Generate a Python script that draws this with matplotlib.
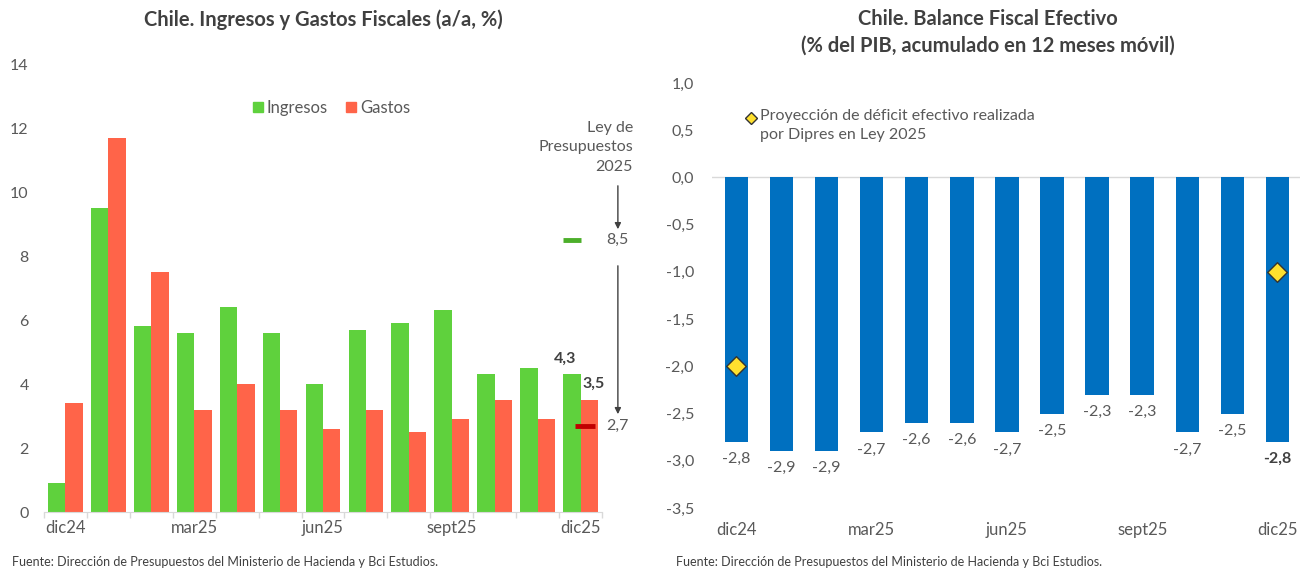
import numpy as np
import matplotlib.pyplot as plt
from matplotlib.lines import Line2D

plt.rcParams['font.family'] = ['Lato', 'DejaVu Sans']

meses = ['dic24', 'ene25', 'feb25', 'mar25', 'abr25', 'may25', 'jun25',
         'jul25', 'ago25', 'sept25', 'oct25', 'nov25', 'dic25']
ingresos = [0.9, 9.5, 5.8, 5.6, 6.4, 5.6, 4.0, 5.7, 5.9, 6.3, 4.3, 4.5, 4.3]
gastos = [3.4, 11.7, 7.5, 3.2, 4.0, 3.2, 2.6, 3.2, 2.5, 2.9, 3.5, 2.9, 3.5]
ley_ingresos = 8.5
ley_gastos = 2.7

balance = [-2.8, -2.9, -2.9, -2.7, -2.6, -2.6, -2.7, -2.5, -2.3, -2.3, -2.7, -2.5, -2.8]
proyeccion_idx = [0, 12]
proyeccion = [-2.0, -1.0]

tick_idx = [0, 3, 6, 9, 12]

VERDE = '#5FD13D'
ROJO = '#FF6449'
AZUL = '#0070C0'
AMARILLO = '#FFE02E'
GRIS = '#595959'
OSCURO = '#404040'
FUENTE = 'Fuente: Dirección de Presupuestos del Ministerio de Hacienda y Bci Estudios.'

W, H = 1304, 569
fig = plt.figure(figsize=(W / 100, H / 100), dpi=100)


def px_axes(l, t, r, b):
    return fig.add_axes([l / W, 1 - b / H, (r - l) / W, (b - t) / H])


def coma(v, dec=1):
    return f'{v:.{dec}f}'.replace('.', ',')


# ---- izquierda: ingresos y gastos ----
ax = px_axes(44, 64, 602, 512)
x = np.arange(len(meses))
w = 0.405
ax.bar(x - w / 2, ingresos, w, color=VERDE, zorder=2)
ax.bar(x + w / 2, gastos, w, color=ROJO, zorder=2)
ax.set_xlim(-0.5, 12.45)
ax.set_ylim(0, 14)
ax.set_yticks(range(0, 15, 2))
ax.set_xticks(tick_idx)
ax.set_xticklabels([meses[i] for i in tick_idx])
ax.set_xticks(np.arange(-0.5, 13, 1), minor=True)
ax.tick_params(axis='y', length=0, pad=11, labelsize=11.5, labelcolor=GRIS)
ax.tick_params(axis='x', which='major', length=0, pad=6, labelsize=12, labelcolor=GRIS)
ax.tick_params(axis='x', which='minor', length=4, color='#d9d9d9', width=1)
for s in ['top', 'right', 'left']:
    ax.spines[s].set_visible(False)
ax.spines['bottom'].set_color('#d9d9d9')

ax.text(12 - w / 2 - 0.15, ingresos[-1] + 0.5, coma(ingresos[-1]), ha='center', va='center',
        fontsize=11.5, fontweight='bold', color=OSCURO)
ax.text(12 + w / 2 + 0.1, gastos[-1] + 0.5, coma(gastos[-1]), ha='center', va='center',
        fontsize=11.5, fontweight='bold', color=OSCURO)

# Ley de Presupuestos 2025
ax.plot([11.58, 12.0], [ley_ingresos, ley_ingresos], color='#4CAF2A', lw=3.5,
        clip_on=False, solid_capstyle='butt')
ax.plot([11.87, 12.34], [ley_gastos, ley_gastos], color='#C00000', lw=3.5,
        clip_on=False, solid_capstyle='butt')
ax.text(12.6, ley_ingresos, coma(ley_ingresos), ha='left', va='center', fontsize=11.5, color=GRIS)
ax.text(12.6, ley_gastos, coma(ley_gastos), ha='left', va='center', fontsize=11.5, color=GRIS)
ax.text(13.22, ley_ingresos + 2.9, 'Ley de\nPresupuestos\n2025', ha='right', va='center',
        fontsize=11.5, color=GRIS, linespacing=1.5)
arrow = dict(arrowstyle='-|>', color='#404040', lw=1, mutation_scale=9)
ax.annotate('', xy=(12.87, ley_ingresos + 0.25), xytext=(12.87, ley_ingresos + 1.78),
            arrowprops=arrow, annotation_clip=False)
ax.annotate('', xy=(12.87, ley_gastos + 0.27), xytext=(12.87, ley_ingresos - 0.72),
            arrowprops=arrow, annotation_clip=False)

leg = [Line2D([], [], marker='s', ls='', color=VERDE, markersize=7),
       Line2D([], [], marker='s', ls='', color=ROJO, markersize=7)]
fig.legend(leg, ['Ingresos', 'Gastos'], loc='center', bbox_to_anchor=(330 / W, 1 - 108 / H),
           ncol=2, frameon=False, fontsize=12, handletextpad=0.05, columnspacing=0.9,
           labelcolor=GRIS, handlelength=1.0)

fig.text(323 / W, 1 - 20 / H, 'Chile. Ingresos y Gastos Fiscales (a/a, %)', ha='center',
         va='center', fontsize=14.5, fontweight='bold', color=OSCURO)

# ---- derecha: balance fiscal ----
ax2 = px_axes(712, 83, 1300, 508)
x2 = np.arange(len(balance))
ax2.bar(x2, balance, 0.52, color=AZUL, zorder=2)
ax2.scatter(proyeccion_idx, proyeccion, marker='D', s=100, color=AMARILLO,
            edgecolor='#333333', linewidth=1, zorder=3)
ax2.axhline(0, color='#d9d9d9', lw=1, zorder=1)
ax2.set_xlim(-0.54, 12.5)
ax2.set_ylim(-3.5, 1.0)
yt = np.arange(-3.5, 1.01, 0.5)
ax2.set_yticks(yt)
ax2.set_yticklabels([coma(v) for v in yt])
ax2.set_xticks(tick_idx)
ax2.set_xticklabels([meses[i] for i in tick_idx])
ax2.tick_params(axis='y', length=0, pad=13, labelsize=11.5, labelcolor=GRIS)
ax2.tick_params(axis='x', length=0, pad=10, labelsize=12, labelcolor=GRIS)
for s in ax2.spines.values():
    s.set_visible(False)
for i, v in enumerate(balance):
    ultimo = i == len(balance) - 1
    ax2.text(i, v - 0.18, coma(v), ha='center', va='center', fontsize=11.5,
             color=OSCURO if ultimo else GRIS, fontweight='bold' if ultimo else 'normal')

# leyenda del rombo, escrita a mano para controlar el interlineado
ax2.plot([0.066], [0.918], marker='D', ls='', markersize=6, markerfacecolor=AMARILLO,
         markeredgecolor='#333333', transform=ax2.transAxes, clip_on=False)
ax2.text(0.082, 0.939, 'Proyección de déficit efectivo realizada\npor Dipres en Ley 2025',
         transform=ax2.transAxes, ha='left', va='top', fontsize=11.5, color=GRIS,
         linespacing=1.45)

fig.text(988 / W, 1 - 32 / H, 'Chile. Balance Fiscal Efectivo\n(% del PIB, acumulado en 12 meses móvil)',
         ha='center', va='center', fontsize=14.5, fontweight='bold', color=OSCURO, linespacing=1.4)

fig.text(12 / W, 1 - 562 / H, FUENTE, ha='left', va='center', fontsize=9, color=OSCURO)
fig.text(676 / W, 1 - 562 / H, FUENTE, ha='left', va='center', fontsize=9, color=OSCURO)

fig.savefig('out.png', dpi=100)
